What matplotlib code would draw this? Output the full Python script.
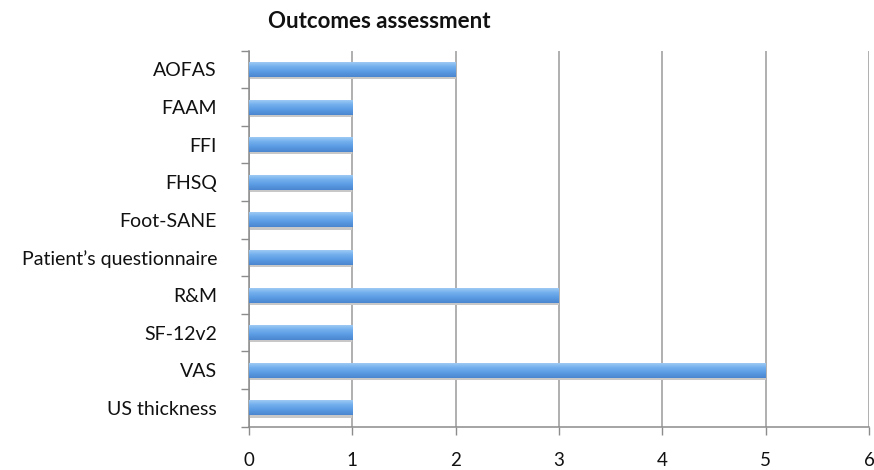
import matplotlib
matplotlib.use("Agg")
import matplotlib.pyplot as plt
import numpy as np
from matplotlib.colors import LinearSegmentedColormap

categories = ["AOFAS", "FAAM", "FFI", "FHSQ", "Foot-SANE", "Patient\u2019s questionnaire",
              "R&M", "SF-12v2", "VAS", "US thickness"]
values = [2, 1, 1, 1, 1, 1, 3, 1, 5, 1]
xticks = [0, 1, 2, 3, 4, 5, 6]
title = "Outcomes assessment"

plt.rcParams['font.family'] = ['Lato', 'DejaVu Sans']

fig = plt.figure(figsize=(8.74, 4.70), dpi=100)
ax = fig.add_axes([249/874, 1-426.7/470, (869-249)/874, (426.7-50.7)/470])

n = len(categories)
ypos = np.arange(n)
bars = ax.barh(ypos, values, height=0.4, color="#6aa8ec", zorder=3)

# vertical gradient inside each bar
grad = np.linspace(0, 1, 64).reshape(-1, 1)
cmap = LinearSegmentedColormap.from_list("g", ["#a6cff5", "#74b0ee", "#5a9be3", "#4a86cf"])
for b in bars:
    x0, y0, w, h = b.get_x(), b.get_y(), b.get_width(), b.get_height()
    ax.add_patch(plt.Rectangle((x0, y0 + h), w, 0.06, color="#c8c8c8", zorder=2.5, lw=0))
    im = ax.imshow(grad, extent=(x0, x0 + w, y0 + h, y0), aspect="auto", cmap=cmap,
                   zorder=3.5, interpolation="bicubic")
    im.set_clip_path(b)

ax.set_xlim(0, 6)
ax.set_ylim(n - 0.5, -0.5)
ax.set_xticks(xticks)
ax.set_xticklabels([str(t) for t in xticks], fontsize=13.5, color="#111111")
ax.set_yticks(ypos)
ax.set_yticklabels(categories, fontsize=14, color="#111111")
ax.set_yticks(np.arange(-0.5, n, 1), minor=True)

ax.tick_params(axis="y", which="major", length=0, pad=23)
ax.tick_params(axis="y", which="minor", length=6, width=1, color="#8c8c8c")
ax.tick_params(axis="x", which="major", length=6, width=1, color="#8c8c8c", pad=12)

ax.grid(axis="x", color="#9a9a9a", linewidth=1.1, zorder=1)
ax.set_axisbelow(True)
for s in ["top", "right"]:
    ax.spines[s].set_visible(False)
for s in ["left", "bottom"]:
    ax.spines[s].set_color("#8c8c8c")
    ax.spines[s].set_linewidth(1.1)

fig.text(379/874, 1-22/470, title, ha="center", va="center", fontsize=16, fontweight="bold",
         color="#111111")

fig.savefig("out.png", dpi=100)
